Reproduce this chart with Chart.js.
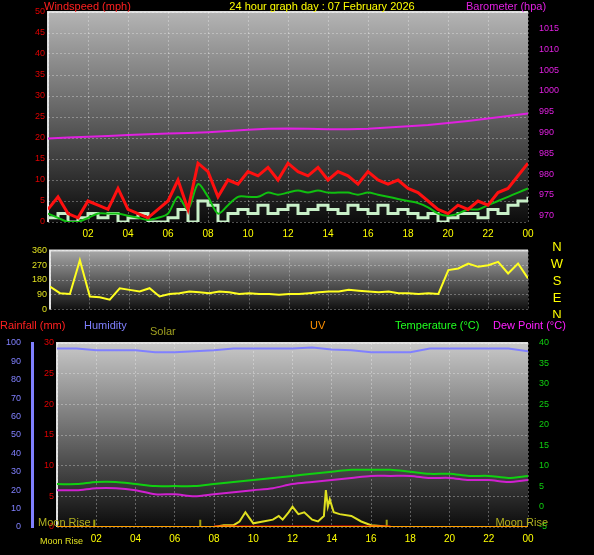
<!DOCTYPE html>
<html>
<head>
<meta charset="utf-8">
<script src="https://cdn.jsdelivr.net/npm/chart.js@4"></script>
<style>
  body { margin: 0; background: #000; width: 594px; height: 555px; overflow: hidden; position: relative; }
  .box { position: absolute; left: 0; width: 594px; }
</style>
</head>
<body>
<div class="box" style="top:0;height:245px"><canvas id="wind"></canvas></div>
<div class="box" style="top:242px;height:76px"><canvas id="dir"></canvas></div>
<div class="box" style="top:318px;height:237px"><canvas id="temp"></canvas></div>
<script>
// half-hourly wind values, 00:00 .. 24:00
const halfHours = Array.from({ length: 49 }, (_, i) => i / 2);
const windGust = [3,6,2,1,5,4,3,8,3,2,1,3,5,10,3,14,12,6,10,9,12,11,13,10,14,12,11,13,10,12,11,9,12,10,9,10,8,7,5,3,2,4,3,5,4,7,8,11,14];
const windAvg = [2,1,0,0,1,2,2,2,1.5,1,0.5,1,2,6,3,9,6,2,4,6,6,6,7,6.5,7,7.5,7,7.5,7,7,7,6.5,7,6.5,6,5.5,5,4.5,3.5,2,1.5,2,3,3,4,5,6,7,8];
const windSpeed = [1,2,0,1,2,1,2,0,1,2,0,0,1,3,0,5,4,0,2,3,2,4,2,3,4,2,3,4,3,2,4,3,2,4,2,3,2,1,2,0,1,2,2,1,3,2,4,5,6];
const windDir = [140,100,95,300,80,75,60,130,120,110,130,80,95,100,110,105,100,110,105,95,100,95,95,90,95,95,100,105,110,110,120,115,110,105,110,100,100,95,100,95,240,250,280,260,270,290,220,280,190];

// hourly values
const hours = Array.from({ length: 25 }, (_, i) => i);
const barometer = [988.6,988.8,989.0,989.2,989.4,989.6,989.8,989.9,990.1,990.4,990.7,990.9,991.0,990.9,990.8,990.8,990.9,991.2,991.5,991.8,992.3,992.8,993.4,994.0,994.6];
const baroTicks = [970, 975, 980, 985, 990, 995, 1000, 1005, 1010, 1015];
const temperature = [5.5,5.5,6,6,5.5,5,5,5,5.5,6,6.5,7,7.5,8,8.5,9,9,9,8.5,8,8,7.5,7.5,7,7.5];
const dewPoint = [4,4,4.5,4.5,4,3,3,2.5,3,3.5,4,4.5,5.5,6,6.5,7,7.5,7.5,7.5,7,7,6.5,6.5,6,6.5];
const humidity = [97,97,96,96,96,95,95,95.5,96,97,97,97,97,97.5,96.5,96,95,95,95,97,97,97,97,97,95.5];

const solarTimes = [0,8,8.5,9,9.3,9.6,9.8,10,10.5,11,11.3,11.5,11.8,12,12.3,12.6,13,13.3,13.6,13.7,13.8,13.9,14.1,14.4,15,15.5,16,16.5,17,24];
const solarValues = [0,0,1,1,3,8,5,2,3,4,6,4,8,11,7,8,4,3,6,20,11,15,8,7,6,3,1,0.5,0,0];

const rainTimes = [8, 17];
const markerTimes = [1.9, 7.3, 16.8];
const dirLetters = ["N", "W", "S", "E", "N"];

const FONT = "Liberation Sans";
const pad2 = (v) => String(v % 24).padStart(2, "0");

function bgPlugin(top, bottom) {
  return {
    id: "bg",
    beforeDraw(chart) {
      const { ctx, chartArea: a } = chart;
      const g = ctx.createLinearGradient(0, a.top, 0, a.bottom);
      g.addColorStop(0, top);
      g.addColorStop(1, bottom);
      ctx.save();
      ctx.fillStyle = g;
      ctx.fillRect(a.left, a.top, a.right - a.left, a.bottom - a.top);
      ctx.strokeStyle = "#ddd";
      ctx.lineWidth = 2;
      ctx.beginPath();
      ctx.moveTo(a.left, a.bottom);
      ctx.lineTo(a.left, a.top);
      ctx.lineTo(a.right, a.top);
      ctx.stroke();
      ctx.restore();
    }
  };
}

function textPlugin(items) {
  return {
    id: "txt",
    afterDraw(chart) {
      const ctx = chart.ctx;
      ctx.save();
      ctx.textBaseline = "top";
      items.forEach(([t, x, y, c, size, align]) => {
        ctx.font = `${size || 11}px ${FONT}`;
        ctx.fillStyle = c;
        ctx.textAlign = align || "left";
        ctx.fillText(t, x, y);
      });
      ctx.restore();
    }
  };
}

const grid = { color: "rgba(255,255,255,0.3)", tickColor: "transparent", drawTicks: false };
const dash = [2, 2];
const fixW = (w) => (s) => { s.width = w; };
const fixH = (h) => (s) => { s.height = h; };

function xAxis(display, h) {
  return {
    type: "linear", min: 0, max: 24,
    afterFit: fixH(h),
    border: { display: false, dash },
    grid,
    ticks: {
      display, stepSize: 2, color: "#ffff00", padding: 6,
      font: { family: FONT, size: 10 },
      callback: (v) => (v === 0 ? "" : pad2(v))
    }
  };
}

const base = {
  responsive: true, maintainAspectRatio: false, animation: false,
  plugins: { legend: { display: false }, tooltip: { enabled: false } },
  elements: { point: { radius: 0 }, line: { borderWidth: 2, tension: 0 } }
};

// top: wind and barometer
new Chart(document.getElementById("wind"), {
  type: "line",
  data: {
    datasets: [
      { data: hours.map((x) => ({ x, y: barometer[x] })), yAxisID: "baro", borderColor: "#e020e0" },
      { data: halfHours.map((x, i) => ({ x, y: windGust[i] })), yAxisID: "y", borderColor: "#ff1010", borderWidth: 3 },
      { data: halfHours.map((x, i) => ({ x, y: windAvg[i] })), yAxisID: "y", borderColor: "#10c010", tension: 0.3 },
      { data: halfHours.map((x, i) => ({ x, y: windSpeed[i] })), yAxisID: "y", borderColor: "#c8f0c8", stepped: true, borderWidth: 3 }
    ]
  },
  options: {
    ...base,
    layout: { padding: { top: 12 } },
    scales: {
      x: xAxis(true, 23),
      y: {
        position: "left", min: 0, max: 50, afterFit: fixW(48),
        border: { display: false, dash }, grid,
        ticks: { stepSize: 5, color: "#e00000", font: { family: FONT, size: 9 } }
      },
      baro: {
        position: "right", min: 968.5, max: 1019, afterFit: fixW(66),
        afterBuildTicks: (s) => { s.ticks = baroTicks.map((value) => ({ value })); },
        border: { display: false }, grid: { display: false },
        ticks: { color: "#e020e0", font: { family: FONT, size: 9 }, callback: (v) => String(v) }
      }
    }
  },
  plugins: [bgPlugin("#b4b4b4", "#0c0c0c"), textPlugin([
    ["Windspeed (mph)", 44, 1, "#ff2020"],
    ["24 hour graph day : 07 February 2026", 322, 1, "#ffff00", 11, "center"],
    ["Barometer (hpa)", 466, 1, "#e020e0"]
  ])]
});

// middle: wind direction
new Chart(document.getElementById("dir"), {
  type: "line",
  data: {
    datasets: [
      { data: halfHours.map((x, i) => ({ x, y: windDir[i] })), borderColor: "#ffff20" }
    ]
  },
  options: {
    ...base,
    layout: { padding: { top: 3, bottom: 7 } },
    scales: {
      x: { ...xAxis(false, 0), display: true },
      y: {
        position: "left", min: 0, max: 360, afterFit: fixW(50),
        border: { display: false, dash }, grid,
        ticks: { stepSize: 90, color: "#e0e020", font: { family: FONT, size: 9 } }
      },
      r: { position: "right", display: true, afterFit: fixW(66), grid: { display: false }, border: { display: false }, ticks: { display: false } }
    }
  },
  plugins: [bgPlugin("#a8a8a8", "#101010"), textPlugin(
    dirLetters.map((l, i) => [l, 557, -1 + i * 17, "#ffff00", 13, "center"])
  )]
});

// bottom: temperature, humidity, solar
const markerPts = [];
markerTimes.forEach((t) => { markerPts.push({ x: t, y: 0 }, { x: t, y: 4 }, { x: t, y: null }); });

new Chart(document.getElementById("temp"), {
  type: "line",
  data: {
    datasets: [
      { data: hours.map((x) => ({ x, y: humidity[x] })), yAxisID: "hum", borderColor: "#8080ff" },
      { data: hours.map((x) => ({ x, y: temperature[x] })), yAxisID: "t", borderColor: "#10d010", tension: 0.3 },
      { data: hours.map((x) => ({ x, y: dewPoint[x] })), yAxisID: "t", borderColor: "#d020d0", tension: 0.3 },
      { data: [{ x: 0, y: 0 }, { x: 24, y: 0 }], yAxisID: "hum", borderColor: "#ffa000" },
      { data: rainTimes.map((x) => ({ x, y: 0 })), yAxisID: "rain", borderColor: "#ff0000", borderWidth: 3 },
      { data: solarTimes.map((x, i) => ({ x, y: solarValues[i] })), yAxisID: "hum", borderColor: "#e0e020" },
      { data: markerPts, yAxisID: "hum", borderColor: "#a0a010", spanGaps: false }
    ]
  },
  options: {
    ...base,
    layout: { padding: { top: 25 } },
    scales: {
      x: xAxis(true, 28),
      hum: {
        position: "left", weight: 2, min: 0, max: 100, afterFit: fixW(32),
        border: { color: "#8080ff", width: 3 }, grid: { display: false },
        ticks: { stepSize: 10, color: "#8080ff", font: { family: FONT, size: 9 } }
      },
      rain: {
        position: "left", weight: 1, min: 0, max: 30, afterFit: fixW(25),
        border: { display: false, dash }, grid,
        ticks: { stepSize: 5, color: "#e00000", font: { family: FONT, size: 9 } }
      },
      t: {
        position: "right", min: -5, max: 40, afterFit: fixW(66),
        border: { display: false }, grid: { display: false },
        ticks: { stepSize: 5, color: "#10d010", font: { family: FONT, size: 9 } }
      }
    }
  },
  plugins: [bgPlugin("#c8c8c8", "#0c0c0c"), textPlugin([
    ["Rainfall (mm)", 0, 2, "#ff2020", 11],
    ["Humidity", 84, 2, "#8080ff", 11],
    ["Solar", 150, 8, "#a0a020", 11],
    ["UV", 310, 2, "#ff9000", 11],
    ["Temperature (°C)", 395, 2, "#20ff20", 11],
    ["Dew Point (°C)", 493, 2, "#ff20ff", 11],
    ["Moon Rise", 38, 199, "#b0b020", 11],
    ["Moon Rise", 548, 199, "#b0b020", 11, "right"],
    ["Moon Rise", 40, 219, "#e0e020", 9]
  ])]
});
</script>
</body>
</html>
